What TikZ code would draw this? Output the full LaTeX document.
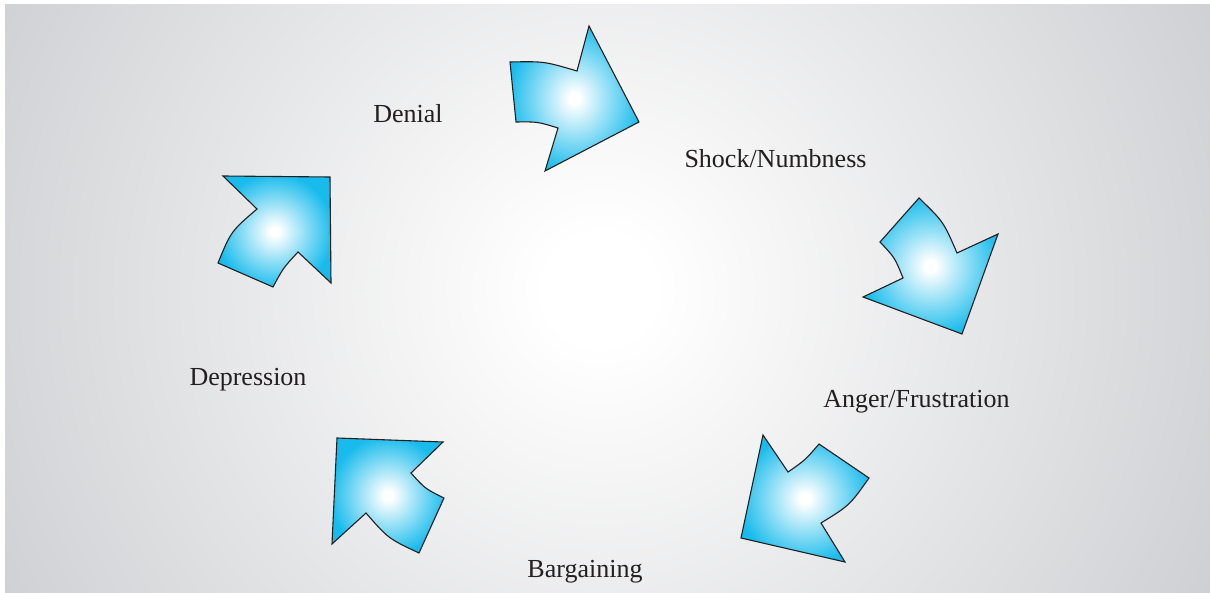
\documentclass[tikz,border=0pt]{standalone}
\usepackage{fontspec}
\setmainfont{Liberation Serif}
\definecolor{arrowcyan}{RGB}{24,187,236}
\definecolor{bggray}{RGB}{207,208,211}
\definecolor{inkcol}{RGB}{35,31,32}
\pgfdeclareradialshading{arrowshade}{\pgfpoint{0bp}{0bp}}{color(0bp)=(white); color(2bp)=(white); color(26bp)=(arrowcyan); color(50bp)=(arrowcyan)}
\pgfdeclareradialshading{bgshade}{\pgfpoint{0bp}{0bp}}{color(0bp)=(white); color(2bp)=(white); color(25bp)=(bggray); color(50bp)=(bggray)}
\tikzset{
  arrowshape/.style={shading=arrowshade, draw=inkcol, line width=1.1pt, line join=miter},
  stagelabel/.style={font=\fontsize{26}{30}\selectfont, text=inkcol, anchor=base, inner sep=0pt}
}
\begin{document}
\begin{tikzpicture}[x=1pt,y=-1pt]
\useasboundingbox (0,0) rectangle (1210,593);
\fill[white] (0,0) rectangle (1210,593);
\fill[bggray] (5,5) rectangle (1210,593);
\begin{scope}
  \clip (5,5) rectangle (1210,593);
  \shade[shading=bgshade] (600,290) circle (680pt);
\end{scope}

% arrow 1 (top, pointing right)
\shadedraw[arrowshape] (510,62) .. controls (544.2,61.3) .. (577,71) -- (589,26) -- (639,122) -- (545,171) -- (558,128) .. controls (537.5,121.7) .. (516,122) -- cycle;
% arrow 2 (right, pointing down-right)
\shadedraw[arrowshape] (919,198) .. controls (943.5,221.7) .. (957,253) -- (998,234) -- (962,334) -- (863,297) -- (903,278) .. controls (894.9,257.8) .. (880,242) -- cycle;
% arrow 3 (bottom right, pointing down-left)
\shadedraw[arrowshape] (763,435) -- (788,472) .. controls (805.3,460) .. (819,444) -- (869,478) .. controls (849.6,505.4) .. (821,523) -- (845,562) -- (741,538) -- cycle;
% arrow 4 (bottom left, pointing up-left)
\shadedraw[arrowshape] (337,438) -- (443,442) -- (411,473) .. controls (425.1,488.7) .. (444,498) -- (419,553) .. controls (388.3,538.6) .. (366,513) -- (332,544) -- cycle;
% arrow 5 (left, pointing up-right)
\shadedraw[arrowshape] (223,176) -- (330,177) -- (331,283) -- (298,252) .. controls (283.3,267.9) .. (273,287) -- (218,263) .. controls (231,231.3) .. (257,209) -- cycle;

\node[stagelabel] (denial) at (408,123) {Denial};
\node[stagelabel] (shock) at (775.5,168) {Shock/Numbness};
\node[stagelabel] (anger) at (916.5,407.5) {Anger/Frustration};
\node[stagelabel] (bargaining) at (585,577) {Bargaining};
\node[stagelabel] (depression) at (248,385) {Depression};
\end{tikzpicture}
\end{document}
